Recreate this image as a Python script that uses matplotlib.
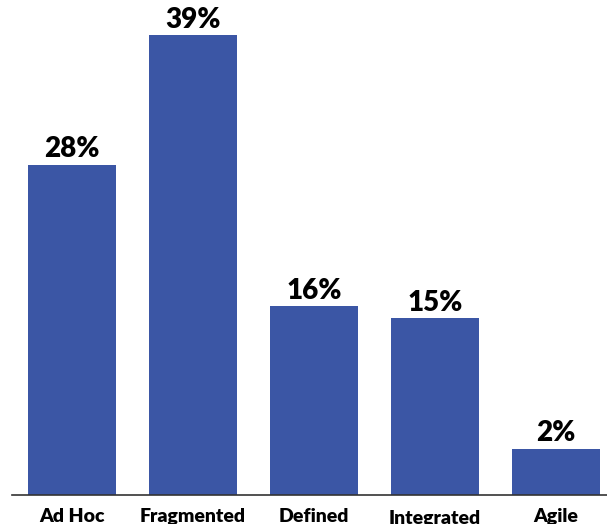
import matplotlib
matplotlib.use("Agg")
import matplotlib.pyplot as plt

categories = ["Ad Hoc", "Fragmented", "Defined", "Integrated", "Agile"]
values = [28, 39, 16, 15, 3.9]
value_labels = ["28%", "39%", "16%", "15%", "2%"]

BAR_COLOR = "#3b56a5"
plt.rcParams["font.family"] = ["Lato", "DejaVu Sans"]

fig = plt.figure(figsize=(6.07, 5.24), dpi=100)
ax = fig.add_axes([12 / 607, 29 / 524, 595 / 607, 495 / 524])

x = list(range(len(categories)))
ax.bar(x, values, width=0.727, color=BAR_COLOR)

for xi, v, lab in zip(x, values, value_labels):
    ax.annotate(lab, (xi, v), xytext=(0, 5.5), textcoords="offset points",
                ha="center", va="baseline", fontsize=20, fontweight="heavy",
                color="black")

# category labels; "Integrated" sits a bit lower in the original
offsets = [-19.5, -19.5, -19.5, -21.0, -19.5]
for xi, cat, off in zip(x, categories, offsets):
    ax.annotate(cat, (xi, 0), xycoords=("data", "axes fraction"),
                xytext=(0, off), textcoords="offset points",
                ha="center", va="baseline", fontsize=14, fontweight="heavy",
                color="black", annotation_clip=False)

ax.set_xlim(-0.496, 4.421)
ax.set_ylim(0, 42.0)
for side in ["top", "right", "left"]:
    ax.spines[side].set_visible(False)
ax.spines["bottom"].set_color("#333333")
ax.spines["bottom"].set_linewidth(1.2)
ax.set_xticks([])
ax.set_yticks([])

fig.savefig("out.png", dpi=100, facecolor="white")
